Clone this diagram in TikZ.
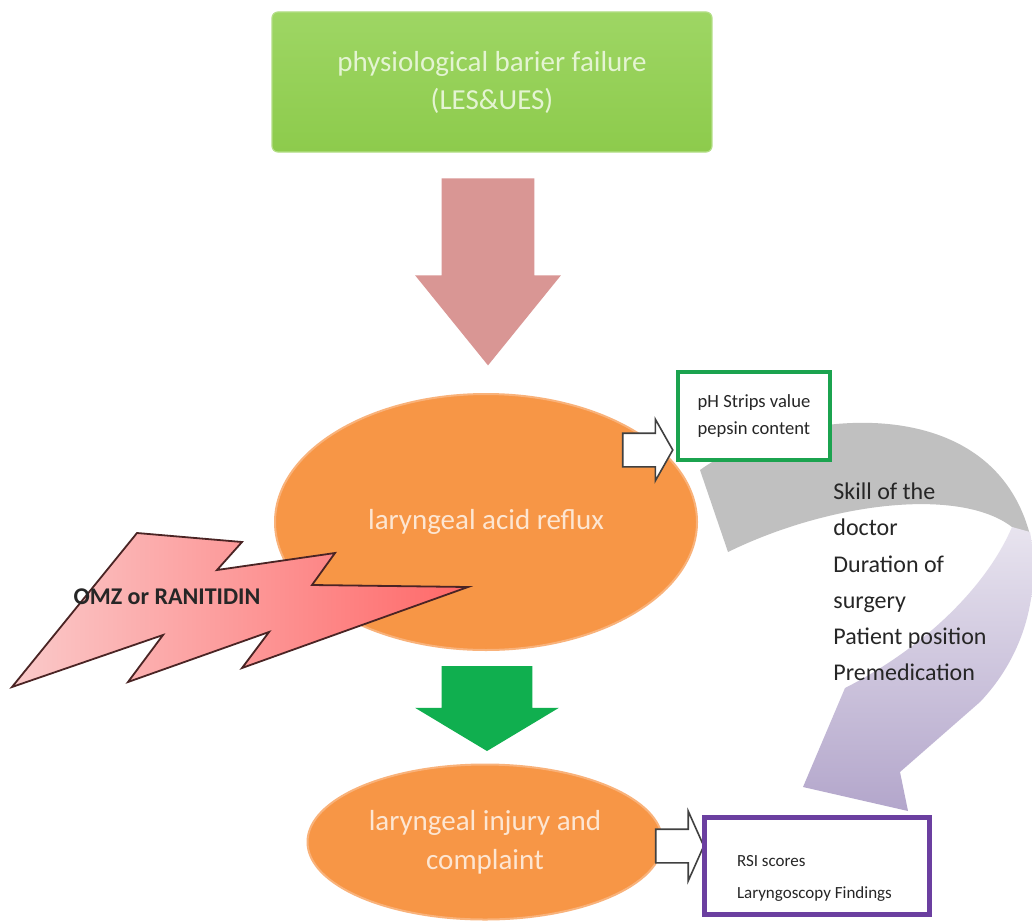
\documentclass[tikz,border=0pt]{standalone}
\usepackage{fontspec}
\setmainfont{Carlito}
\usepackage{tikz}
\usetikzlibrary{shapes.geometric,shapes.arrows,calc}

\definecolor{barriergreen}{HTML}{8DCB4C}
\definecolor{barrierlight}{HTML}{9ED664}
\definecolor{barrieredge}{HTML}{B3DE86}
\definecolor{barriertext}{HTML}{E4F4D2}
\definecolor{refluxorange}{HTML}{F79646}
\definecolor{orangeedge}{HTML}{F9B27A}
\definecolor{orangetext}{HTML}{FDE6D2}
\definecolor{pinkarrow}{HTML}{D99694}
\definecolor{greenarrow}{HTML}{10AF4F}
\definecolor{phgreen}{HTML}{1BA34F}
\definecolor{rsipurple}{HTML}{6B3FA0}
\definecolor{boltlight}{HTML}{FACACA}
\definecolor{boltdark}{HTML}{FF6868}
\definecolor{boltedge}{HTML}{4A2424}
\definecolor{arrowedge}{HTML}{404040}
\definecolor{bandgray}{HTML}{C0C0C0}
\definecolor{bandlilac}{HTML}{E8E4EF}
\definecolor{banddeep}{HTML}{B3A6CB}
\definecolor{darktext}{HTML}{262626}

\begin{document}
\begin{tikzpicture}
[x=0.5pt,y=-0.5pt,
barrier/.style={rectangle,rounded corners=3pt,draw=barrieredge,line width=0.6pt,top color=barrierlight,bottom color=barriergreen,minimum width=220pt,minimum height=70pt,align=center,text=barriertext,font=\fontsize{14.5}{19}\selectfont},
stage/.style={ellipse,fill=refluxorange,draw=orangeedge,line width=1pt,align=center,text=orangetext,inner sep=0pt},
measure/.style={rectangle,fill=white,line width=2pt,align=left,text=darktext,inner sep=0pt},
flowarrow/.style={single arrow,shape border rotate=270,inner ysep=0pt,single arrow head extend=13.25pt,anchor=tip},
hintarrow/.style={single arrow,draw=arrowedge,fill=white,line width=0.8pt,inner xsep=0pt,inner ysep=8pt},
bolt/.style={draw=boltedge,line width=0.9pt,left color=boltlight,right color=boltdark},
factor/.style={align=left,text=darktext,inner sep=0pt,font=\fontsize{12}{18.1}\selectfont}]

\fill[white] (0,0) rectangle (1032,920);
\useasboundingbox (0,0) rectangle (1032,920);

% Drawing the curved arrow
\fill[bandgray] (700,470) .. controls (780,412) and (990,382) .. (1030,535) -- (1012,527) .. controls (960,487) and (830,502) .. (728,552) -- cycle;
\path[top color=bandlilac,bottom color=banddeep] (1012,527) -- (1030,532) .. controls (1042,600) and (1020,660) .. (980,702) -- (900,772) -- (908,811) -- (803,787) -- (845,688) .. controls (920,650) and (985,590) .. (1012,527) -- cycle;

% Drawing stages
\node[barrier] (barrier) at (492,82) {physiological barier failure\\(LES\&UES)};
\node[stage,minimum width=211pt,minimum height=128pt,font=\fontsize{14.5}{18}\selectfont] (reflux) at (486,522) {laryngeal acid reflux};
\node[stage,minimum width=177.5pt,minimum height=77.5pt,font=\fontsize{14.5}{19.5}\selectfont] (injury) at (485,842) {laryngeal injury and\\complaint};

% Drawing block arrows
\node[flowarrow,fill=pinkarrow,inner xsep=23pt,minimum height=93.5pt,minimum width=72.5pt,single arrow tip angle=78] (down1) at ($(reflux.north)+(2,-27)$) {};
\node[flowarrow,fill=greenarrow,inner xsep=22.5pt,minimum height=42.5pt,minimum width=71.5pt,single arrow tip angle=118] (down2) at ($(injury.north)+(2,-12)$) {};

% Drawing the treatment
\draw[bolt] (137,533) -- (242,542) -- (217,570) -- (335,553) -- (312,585) -- (468,587) -- (242,668) -- (269,632) -- (128,682) -- (163,635) -- (12,687) -- cycle;
\node[text=darktext,font=\bfseries\fontsize{12}{14}\selectfont] (omz) at (167,597) {OMZ or RANITIDIN};

% Drawing measures
\node[hintarrow,shape border rotate=15,minimum height=25pt,minimum width=30pt,single arrow head extend=7pt,single arrow tip angle=121] (toph) at (643,450) {};
\node[hintarrow,minimum height=24pt,minimum width=34pt,single arrow head extend=9pt,single arrow tip angle=132] (torsi) at (676,846) {};
\node[measure,draw=phgreen,minimum width=76pt,minimum height=44pt,font=\fontsize{9.3}{13.5}\selectfont] (ph) at (754,416) {pH Strips value\\pepsin content};
\node[measure,draw=rsipurple,line width=2.5pt,minimum width=112.5pt,minimum height=48.5pt,font=\fontsize{8.5}{16}\selectfont] (rsi) at (817,866) {\parbox[c][34pt][b]{80pt}{\raggedright RSI scores\\Laryngoscopy Findings}};
\node[factor] (factors) at (910,582) {Skill of the\\doctor\\Duration of\\surgery\\Patient position\\Premedication};
\end{tikzpicture}
\end{document}
